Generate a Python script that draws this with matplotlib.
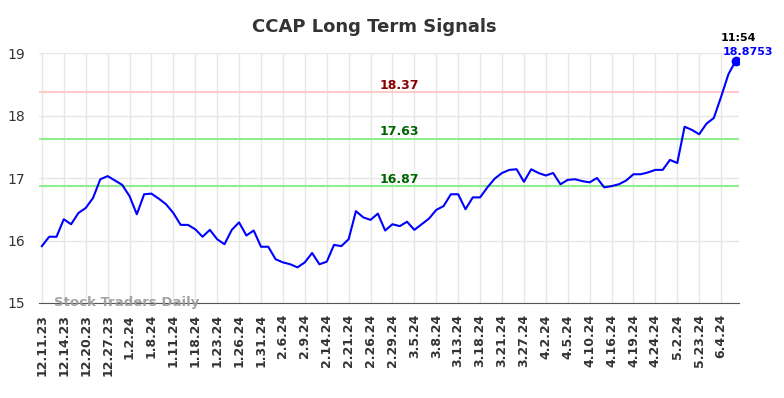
import numpy as np
import matplotlib; matplotlib.use("Agg")
import matplotlib.pyplot as plt

# CCAP daily close (3 points per labelled date)
prices = [15.91, 16.06, 16.06, 16.34, 16.26, 16.44, 16.52, 16.68, 16.98, 17.03,
          16.96, 16.89, 16.71, 16.42, 16.74, 16.75, 16.67, 16.58, 16.44, 16.25,
          16.25, 16.18, 16.06, 16.17, 16.02, 15.94, 16.17, 16.29, 16.08, 16.16,
          15.90, 15.90, 15.70, 15.65, 15.62, 15.57, 15.65, 15.80, 15.62, 15.66,
          15.93, 15.91, 16.02, 16.47, 16.37, 16.33, 16.43, 16.16, 16.26, 16.23,
          16.30, 16.17, 16.26, 16.35, 16.49, 16.55, 16.74, 16.74, 16.50, 16.69,
          16.69, 16.85, 16.99, 17.08, 17.13, 17.14, 16.94, 17.14, 17.08, 17.04,
          17.08, 16.90, 16.97, 16.98, 16.95, 16.93, 17.00, 16.85, 16.87, 16.90,
          16.96, 17.06, 17.06, 17.09, 17.13, 17.13, 17.29, 17.24, 17.82, 17.77,
          17.70, 17.87, 17.96, 18.30, 18.66, 18.8753]
tick_labels = ['12.11.23', '12.14.23', '12.20.23', '12.27.23', '1.2.24', '1.8.24', '1.11.24',
               '1.18.24', '1.23.24', '1.26.24', '1.31.24', '2.6.24', '2.9.24', '2.14.24',
               '2.21.24', '2.26.24', '2.29.24', '3.5.24', '3.8.24', '3.13.24', '3.18.24',
               '3.21.24', '3.27.24', '4.2.24', '4.5.24', '4.10.24', '4.16.24', '4.19.24',
               '4.24.24', '5.2.24', '5.23.24', '6.4.24']
levels = [18.37, 17.63, 16.87]
level_colors = ['#ffcccc', '#90ee90', '#90ee90']
label_colors = ['#8b0000', '#006400', '#006400']
last_time = '11:54'

fig = plt.figure(figsize=(7.84, 3.98), dpi=100)
ax = fig.add_axes([0.0497, 0.2387, 0.8929, 0.6281])
x = np.arange(len(prices))
ax.plot(x, prices, color='#0000ff', lw=1.5, zorder=3)
ax.plot(x[-1], prices[-1], 'o', color='#0000ff', ms=6, zorder=4)

mid = 49
for lv, lc, tc in zip(levels, level_colors, label_colors):
    ax.axhline(lv, color=lc, lw=1.5, zorder=2)
    ax.text(mid, lv + 0.01, f"{lv:.2f}", color=tc, fontsize=9, fontweight='bold',
            ha='center', va='bottom')

ax.annotate(last_time, (x[-1], prices[-1]), xytext=(2, 12.5), textcoords='offset points',
            color='black', fontsize=8, fontweight='bold', ha='center', va='bottom')
ax.annotate(f"{prices[-1]:.4f}", (x[-1], prices[-1]), xytext=(8.5, 2.6), textcoords='offset points',
            color='#0000ff', fontsize=8, fontweight='bold', ha='center', va='bottom')
ax.text(1.6, 15.0, 'Stock Traders Daily', color='#999999', fontsize=9.5, fontweight='bold',
        ha='left', va='center', alpha=0.9)

ax.set_xlim(-0.4, len(prices) - 1 + 0.45)
ax.set_ylim(15, 19)
ax.set_yticks([15, 16, 17, 18, 19])
ax.set_xticks(x[::3])
ax.set_xticklabels(tick_labels, rotation=90, fontsize=9, fontweight='bold', color='#333333')
ax.tick_params(axis='y', labelsize=10, colors='#333333', length=0, pad=10)
ax.tick_params(axis='x', length=0, pad=8)
ax.grid(color='#e6e6e6', lw=1)
ax.set_axisbelow(True)
for s in ['top', 'right', 'left']:
    ax.spines[s].set_visible(False)
ax.spines['bottom'].set_color('#555555')

fig.text(0.478, 0.932, 'CCAP Long Term Signals', ha='center', va='center', fontsize=13,
         fontweight='bold', color='#333333')
fig.savefig('out.png', dpi=100)
